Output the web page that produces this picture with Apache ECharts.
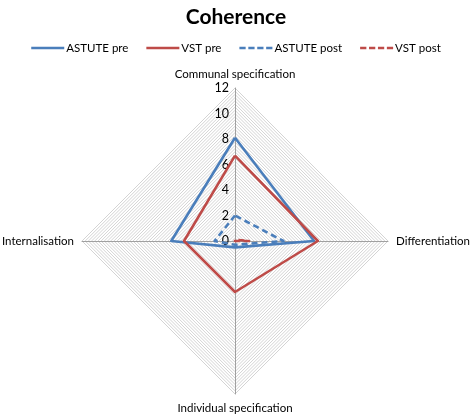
<!DOCTYPE html>
<html>
<head>
<meta charset="utf-8">
<script src="https://cdn.jsdelivr.net/npm/echarts@6/dist/echarts.min.js"></script>
<style>html,body{margin:0;padding:0;background:#fff;}#c{width:472px;height:419px;}</style>
</head>
<body>
<div id="c"></div>
<script>
// Data
var indicators = ["Communal specification", "Internalisation", "Individual specification", "Differentiation"];
var seriesNames = ["ASTUTE pre", "VST pre", "ASTUTE post", "VST post"];
var astutePre = [8.1, 5.0, 0.5, 6.2];
var vstPre = [6.7, 4.0, 4.0, 6.5];
var astutePost = [2.0, 1.6, 0.3, 3.8];
var vstPost = [0.1, 0.0, 0.0, 1.1];
var axisMax = 12;
var tickStep = 2;

var blue = '#4A7EBB', red = '#BE4B48';
var font = 'Lato';
var chart = echarts.init(document.getElementById('c'));
var center = [235, 241], radius = 153;
var dashIcon = 'path://M0,0h7v3h-7z M10,0h7v3h-7z M20,0h7v3h-7z M30,0h7v3h-7z';
var solidIcon = 'path://M0,0h37v3h-37z';

chart.setOption({
  animation: false,
  title: {
    text: 'Coherence', left: 'center', top: 2,
    textStyle: {fontFamily: font, fontSize: 21, fontWeight: 'bold', color: '#000'}
  },
  legend: {
    top: 37, left: 'center', itemWidth: 33, itemHeight: 3, itemGap: 18,
    textStyle: {fontFamily: font, fontSize: 11.5, color: '#000', padding: [0,0,0,-3]},
    data: [
      {name: seriesNames[0], icon: solidIcon},
      {name: seriesNames[1], icon: solidIcon},
      {name: seriesNames[2], icon: dashIcon},
      {name: seriesNames[3], icon: dashIcon}
    ]
  },
  radar: [{
    center: center, radius: radius, startAngle: 90, shape: 'polygon',
    splitNumber: axisMax / 0.25,
    indicator: indicators.map(function(n){ return {name: n, min: 0, max: axisMax}; }),
    axisName: {color: '#000', fontFamily: font, fontSize: 11.5},
    nameGap: 8,
    axisLine: {lineStyle: {color: '#a0a0a0', width: 1}},
    splitLine: {lineStyle: {color: '#d4d4d4', width: 1}},
    splitArea: {show: false},
    axisLabel: {show: false}
  }, {
    center: center, radius: radius, startAngle: 90, shape: 'polygon',
    splitNumber: axisMax / tickStep,
    indicator: indicators.map(function(n, i){
      return {name: '', min: 0, max: axisMax, axisLabel: {show: i === 0}};
    }),
    axisName: {show: false},
    axisLine: {show: false},
    splitLine: {show: false},
    splitArea: {show: false},
    axisTick: {show: false},
    axisLabel: {show: false, color: '#000', fontFamily: font, fontSize: 12.5, margin: 6}
  }],
  series: [{
    type: 'radar', radarIndex: 0, symbol: 'none',
    data: [
      {name: seriesNames[0], value: astutePre, lineStyle: {color: blue, width: 2.6}, itemStyle: {color: blue}},
      {name: seriesNames[1], value: vstPre, lineStyle: {color: red, width: 2.6}, itemStyle: {color: red}},
      {name: seriesNames[2], value: astutePost, lineStyle: {color: blue, width: 2.6, type: [6, 4]}, itemStyle: {color: blue}},
      {name: seriesNames[3], value: vstPost, lineStyle: {color: red, width: 2.6, type: [6, 4]}, itemStyle: {color: red}}
    ]
  }]
});
</script>
</body>
</html>
